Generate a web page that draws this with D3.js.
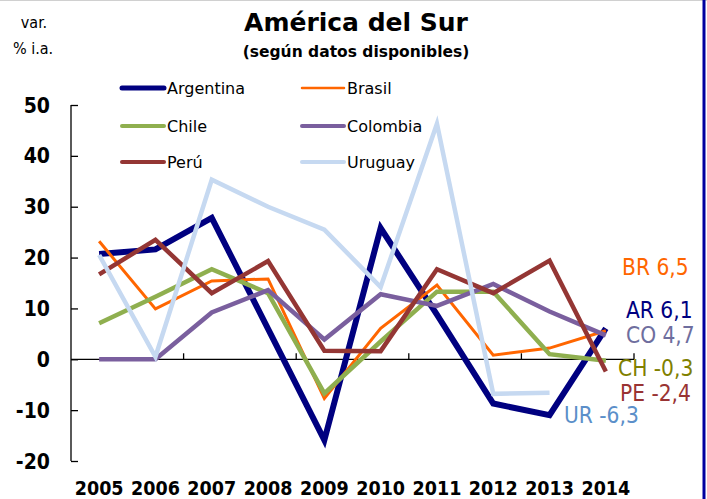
<!DOCTYPE html>
<html>
<head>
<meta charset="utf-8">
<script src="https://cdn.jsdelivr.net/npm/d3@7"></script>
<style>
  html, body { margin: 0; padding: 0; background: #fff; }
  svg { display: block; font-family: "DejaVu Sans Condensed", "DejaVu Sans", sans-serif; }
  .wide { font-family: "DejaVu Sans", sans-serif; }
</style>
</head>
<body>
<svg id="chart" width="707" height="499"></svg>
<script>
// ---- data ----
const years = ["2005","2006","2007","2008","2009","2010","2011","2012","2013","2014"];
const argentina = [20.7, 21.6, 27.8, 6.0, -15.9, 25.8, 8.8, -8.7, -11.0, 6.1];
const brasil    = [23.2, 9.9, 15.4, 15.8, -7.7, 6.1, 14.6, 0.8, 2.2, 5.6];
const chile     = [7.1, 12.3, 17.7, 13.0, -6.7, 3.5, 13.3, 13.3, 1.0, -0.3];
const colombia  = [0, 0, 9.2, 13.6, 3.9, 12.8, 10.5, 14.8, 9.4, 4.7];
const peru      = [16.7, 23.5, 13.0, 19.3, 1.7, 1.6, 17.7, 13.0, 19.4, -2.4];
const uruguay   = [20.5, 0.5, 35.3, 30.0, 25.5, 14.2, 46.3, -6.8, -6.6, null];
const seriesNames = ["Argentina", "Brasil", "Chile", "Colombia", "Perú", "Uruguay"];
const yTicks = [-20, -10, 0, 10, 20, 30, 40, 50];
const endLabels = ["BR 6,5", "AR 6,1", "CO 4,7", "CH -0,3", "PE -2,4", "UR -6,3"];

// ---- styles ----
const seriesData = [argentina, brasil, chile, colombia, peru, uruguay];
const colors = ["#000080", "#FF6600", "#8FAF4F", "#7A5F9E", "#943634", "#C6D9F1"];
const widths = [6, 3, 4.5, 4.5, 4.5, 4.5];
const labelColors = ["#FF6600", "#000080", "#6E6E9E", "#808000", "#993333", "#5B8FC9"];
const labelPos = [[622, 275], [626, 318], [626, 343], [618, 376], [620, 401], [564, 423]];
const legendPos = [[122, 88], [302, 88], [122, 126], [302, 126], [122, 162], [302, 162]];

const svg = d3.select("#chart");

// frame
svg.append("line").attr("x1", 0).attr("x2", 707).attr("y1", 0.5).attr("y2", 0.5)
  .attr("stroke", "#d0d0d0").attr("stroke-width", 1);
svg.append("line").attr("x1", 704).attr("x2", 704).attr("y1", 0).attr("y2", 499)
  .attr("stroke", "#0000A0").attr("stroke-width", 3);

const x = d3.scalePoint().domain(years).range([71, 634]).padding(0.5);
const y = d3.scaleLinear().domain([-20, 50]).range([461, 105]);

// y axis
const yAxis = d3.axisRight(y).tickValues(yTicks).tickSize(7).tickFormat("");
const gy = svg.append("g").attr("transform", "translate(71,0)").call(yAxis);
gy.select(".domain").attr("stroke", "#000").attr("stroke-width", 1.3).attr("d", `M0,${y(50)}V${y(-20)}`);
gy.selectAll(".tick line").attr("stroke", "#000").attr("stroke-width", 1.3);

svg.append("g").selectAll("text").data(yTicks).join("text")
  .attr("x", 50).attr("y", d => y(d)).attr("dy", "0.36em")
  .attr("text-anchor", "end").attr("font-weight", "bold").attr("font-size", 21)
  .attr("fill", "#000").text(d => d);

// x axis at zero
const step = x.step();
const boundaries = d3.range(0, years.length + 1, 2).map(i => x(years[0]) - step / 2 + i * step);
svg.append("line").attr("x1", 71).attr("x2", 634).attr("y1", y(0)).attr("y2", y(0))
  .attr("stroke", "#000").attr("stroke-width", 1.3);
svg.append("g").selectAll("line").data(boundaries.slice(1)).join("line")
  .attr("x1", d => d).attr("x2", d => d).attr("y1", y(0)).attr("y2", y(0) - 6)
  .attr("stroke", "#000").attr("stroke-width", 1.3);

// x labels
svg.append("g").selectAll("text").data(years).join("text")
  .attr("x", d => x(d)).attr("y", 495).attr("text-anchor", "middle")
  .attr("font-weight", "bold").attr("font-size", 19.5).attr("fill", "#000").text(d => d);

// lines
const line = d3.line().defined(d => d.v !== null).x(d => x(d.year)).y(d => y(d.v));
seriesData.forEach((s, i) => {
  const pts = years.map((yr, j) => ({ year: yr, v: s[j] }));
  svg.append("path").datum(pts).attr("d", line).attr("fill", "none")
    .attr("stroke", colors[i]).attr("stroke-width", widths[i])
    .attr("stroke-linejoin", "miter").attr("stroke-miterlimit", 10);
});

// legend
const lg = svg.append("g");
seriesNames.forEach((n, i) => {
  const [lx, ly] = legendPos[i];
  lg.append("line").attr("x1", lx).attr("x2", lx + 42).attr("y1", ly).attr("y2", ly)
    .attr("stroke", colors[i]).attr("stroke-width", i === 1 ? 2.5 : (i === 0 ? 5 : 4))
    .attr("stroke-linecap", "round");
  lg.append("text").attr("class", "wide").attr("x", lx + 45).attr("y", ly).attr("dy", "0.36em")
    .attr("font-size", 16).attr("fill", "#000").text(n);
});

// end labels
svg.append("g").selectAll("text").data(endLabels).join("text")
  .attr("x", (d, i) => labelPos[i][0]).attr("y", (d, i) => labelPos[i][1])
  .attr("font-size", 22.5).attr("fill", (d, i) => labelColors[i]).text(d => d);

// titles
svg.append("text").attr("class", "wide").attr("x", 356).attr("y", 31).attr("text-anchor", "middle")
  .attr("font-weight", "bold").attr("font-size", 25).text("América del Sur");
svg.append("text").attr("class", "wide").attr("x", 356).attr("y", 57).attr("text-anchor", "middle")
  .attr("font-weight", "bold").attr("font-size", 15.5).text("(según datos disponibles)");
svg.append("text").attr("x", 34).attr("y", 28).attr("text-anchor", "middle")
  .attr("font-size", 16).text("var.");
svg.append("text").attr("x", 33).attr("y", 54).attr("text-anchor", "middle")
  .attr("font-size", 16).text("% i.a.");
</script>
</body>
</html>
